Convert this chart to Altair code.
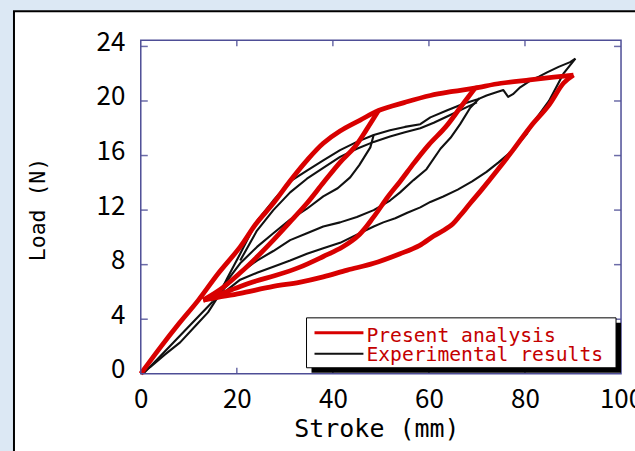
import altair as alt
import pandas as pd

# ---------------- data ----------------
# Present analysis (red)
RED_ENV_X = [0, 4, 8, 12, 16, 20.7, 24, 27.6, 31, 34.6, 38, 41.5, 45.7, 49.5, 55, 60.3, 65, 69.5, 75, 81, 86, 90.1]
RED_ENV_Y = [0, 1.9, 3.7, 5.4, 7.3, 9.3, 11.0, 12.5, 14.1, 15.65, 16.9, 17.8, 18.6, 19.3, 19.9, 20.4, 20.7, 20.95, 21.3, 21.55, 21.75, 21.9]
RED_U1_X = [49.5, 47, 44.5, 41.5, 38, 34.6, 31, 27.6, 24, 20.7, 17, 13]
RED_U1_Y = [19.3, 17.9, 16.6, 15.5, 14.0, 12.5, 11.1, 9.8, 8.5, 7.4, 6.3, 5.4]
RED_U2_X = [69.5, 66.5, 63.5, 60, 57, 54, 51.5, 48.5, 45.5, 42, 38, 33, 28, 24, 20.7, 17, 13]
RED_U2_Y = [20.9, 19.5, 18.1, 16.8, 15.5, 14.1, 13.0, 11.5, 10.2, 9.3, 8.6, 7.8, 7.2, 6.8, 6.4, 5.9, 5.4]
RED_U3_X = [90.1, 88, 85, 81.1, 77.5, 74.2, 71, 68.6, 66.5, 65, 63, 61, 58, 54, 48.5, 43, 38, 33, 27.6, 20.7, 16, 13]
RED_U3_Y = [21.9, 21.3, 19.7, 18.1, 16.4, 14.9, 13.5, 12.5, 11.6, 11.0, 10.5, 10.1, 9.4, 8.8, 8.1, 7.6, 7.1, 6.7, 6.4, 5.9, 5.6, 5.4]

# Experimental results (black)
BLK_ENV_X = [0, 2, 5, 8.2, 11.6, 14, 16, 18, 20.7, 24.2, 27.6, 31.1, 34.6, 38, 41.5, 45, 48.5, 51.9, 55, 58.2, 60.3, 63.7, 67.2, 70, 72, 74.2, 75.5, 76.5, 77.5, 79, 81.1, 83, 84.6, 87, 89.4, 90.5]
BLK_ENV_Y = [0, 0.5, 1.4, 2.3, 3.6, 4.5, 5.6, 7.0, 8.8, 11.2, 12.7, 14.1, 14.9, 15.65, 16.4, 17.0, 17.5, 17.85, 18.1, 18.3, 18.8, 19.3, 19.8, 20.1, 20.4, 20.65, 20.8, 20.3, 20.5, 21.0, 21.5, 21.8, 22.1, 22.5, 22.85, 23.1]
BLK_ENV2_X = [20.7, 24.2, 27.6, 31.1, 34.6, 38, 41.5, 45, 48.5, 51.9, 55, 58.2, 61, 64, 67, 70]
BLK_ENV2_Y = [8.3, 10.5, 12.0, 13.3, 14.3, 15.1, 15.9, 16.5, 17.0, 17.4, 17.7, 18.0, 18.4, 18.9, 19.4, 19.9]
BLK_U1_X = [48.5, 47.8, 45.5, 43.6, 41, 38, 34.6, 31.1, 27.6, 24.2, 20.7, 17.5, 15]
BLK_U1_Y = [17.5, 16.6, 15.3, 14.4, 13.6, 13.0, 12.1, 11.3, 10.3, 9.3, 8.1, 6.6, 5.4]
BLK_U2_X = [70.5, 68.6, 66.5, 64.5, 62.4, 59.5, 56.8, 54, 51.9, 48.5, 45, 41.5, 38, 34.6, 31.1, 27.6, 24.2, 20.7, 17.5, 15]
BLK_U2_Y = [20.2, 19.5, 18.3, 17.3, 16.5, 15.0, 14.2, 13.3, 12.7, 12.0, 11.5, 11.1, 10.8, 10.3, 9.8, 9.0, 8.3, 7.4, 6.3, 5.3]
BLK_U3_X = [90.5, 88, 85, 82.5, 80.4, 77.5, 74.5, 72, 69, 66, 63, 60.3, 58.2, 55.5, 53, 50.5, 48.5, 45, 41.5, 38, 34.6, 31.1, 27.6, 24.2, 20.7, 17.5, 15]
BLK_U3_Y = [23.1, 22.0, 20.0, 18.8, 17.6, 16.4, 15.5, 14.8, 14.1, 13.5, 13.0, 12.6, 12.2, 11.8, 11.4, 11.1, 10.8, 10.2, 9.6, 9.2, 8.8, 8.3, 7.85, 7.4, 6.9, 6.0, 5.3]
BLK_RET_X = [15, 12, 9, 6, 3, 0.5]
BLK_RET_Y = [5.3, 4.2, 3.1, 2.0, 0.9, 0]

X_TICKS = [0, 20, 40, 60, 80, 100]
Y_TICKS = [0, 4, 8, 12, 16, 20, 24]
X_INNER = [20, 40, 60, 80]
Y_INNER = [4, 8, 12, 16, 20, 24]
LEGEND_LABELS = ["Present analysis", "Experimental results"]
RED = "#d80000"
BLK = "#111111"
TICK = "#6c6ca8"

# ---------------- build table ----------------
def seg(name, xs, ys):
    return pd.DataFrame({"stroke": xs, "load": ys, "curve": name, "i": range(len(xs))})

red_df = pd.concat([seg("env", RED_ENV_X, RED_ENV_Y), seg("u1", RED_U1_X, RED_U1_Y),
                    seg("u2", RED_U2_X, RED_U2_Y), seg("u3", RED_U3_X, RED_U3_Y)])
blk_df = pd.concat([seg("benv", BLK_ENV_X, BLK_ENV_Y), seg("benv2", BLK_ENV2_X, BLK_ENV2_Y),
                    seg("b1", BLK_U1_X, BLK_U1_Y), seg("b2", BLK_U2_X, BLK_U2_Y),
                    seg("b3", BLK_U3_X, BLK_U3_Y), seg("bret", BLK_RET_X, BLK_RET_Y)])

W, H = 481, 334
XS = alt.Scale(domain=[0, 100], nice=False, zero=False)
YS = alt.Scale(domain=[0, 24.45], nice=False, zero=False)
XAX = alt.Axis(values=X_TICKS, title="Stroke (mm)", grid=False, ticks=False, tickSize=0, domain=False,
               labelFont="Noto Sans CJK JP", labelFontSize=26, labelColor="black",
               labelPadding=34, labelBaseline="alphabetic", labelFlush=False, labelOverlap=False,
               titleFont="DejaVu Sans Mono", titleFontSize=25, titleFontWeight="normal",
               titleColor="black", titleX=236, titleY=63, titleBaseline="alphabetic", zindex=2)
YAX = alt.Axis(values=Y_TICKS, title="Load (N)", grid=False, ticks=False, tickSize=0, domain=False,
               labelFont="Noto Sans CJK JP", labelFontSize=26, labelColor="black",
               labelPadding=16, labelBaseline="alphabetic", labelOffset=4, labelAlign="right",
               labelFlush=False, labelOverlap=False,
               titleFont="DejaVu Sans Mono", titleFontSize=21.5, titleFontWeight="normal",
               titleColor="black", titleX=-96, titleY=169, titleAngle=270, titleAlign="center",
               titleBaseline="alphabetic", zindex=2)

def X(f):
    return alt.X(f, type="quantitative", scale=XS, axis=XAX)

def Y(f):
    return alt.Y(f, type="quantitative", scale=YS, axis=YAX)

one = pd.DataFrame({"k": [0]})

panel = alt.Chart(one).mark_rect(fill="white", stroke="black", strokeWidth=2).encode(
    x=alt.value(-127), x2=alt.value(W + 40), y=alt.value(-29), y2=alt.value(H + 120))

yt = pd.DataFrame({"v": Y_INNER})
xt = pd.DataFrame({"v": X_INNER})
tick_l = alt.Chart(yt).mark_rule(color=TICK, strokeWidth=1.5).encode(y=Y("v"), x=alt.value(0), x2=alt.value(7))
tick_r = alt.Chart(yt).mark_rule(color=TICK, strokeWidth=1.5).encode(y=Y("v"), x=alt.value(W - 7), x2=alt.value(W))
tick_t = alt.Chart(xt).mark_rule(color=TICK, strokeWidth=1.5).encode(x=X("v"), y=alt.value(0), y2=alt.value(6))
tick_b = alt.Chart(xt).mark_rule(color=TICK, strokeWidth=1.5).encode(x=X("v"), y=alt.value(H - 6), y2=alt.value(H))

frame = alt.Chart(one).mark_rect(filled=False, stroke="#4e4e96", strokeWidth=1.5).encode(
    x=alt.value(0), x2=alt.value(W), y=alt.value(0), y2=alt.value(H))

blk = alt.Chart(blk_df).mark_line(color=BLK, strokeWidth=2.1, strokeJoin="round").encode(
    x=X("stroke"), y=Y("load"), detail="curve:N", order="i:Q")
red = alt.Chart(red_df).mark_line(color=RED, strokeWidth=4.8, strokeJoin="round",
                                  interpolate="catmull-rom").encode(
    x=X("stroke"), y=Y("load"), detail="curve:N", order="i:Q")

# legend (drawn manually)
lg_shadow = alt.Chart(one).mark_rect(fill="black").encode(
    x=alt.value(171), x2=alt.value(481), y=alt.value(283), y2=alt.value(333))
lg_box = alt.Chart(one).mark_rect(fill="white", stroke="black", strokeWidth=1).encode(
    x=alt.value(166), x2=alt.value(476), y=alt.value(278), y2=alt.value(328))
lg_red = alt.Chart(one).mark_rule(color=RED, strokeWidth=3).encode(
    x=alt.value(174), x2=alt.value(223), y=alt.value(293))
lg_blk = alt.Chart(one).mark_rule(color=BLK, strokeWidth=2).encode(
    x=alt.value(174), x2=alt.value(223), y=alt.value(314))
lg_t1 = alt.Chart(pd.DataFrame({"t": [LEGEND_LABELS[0]]})).mark_text(
    font="DejaVu Sans Mono", fontSize=19.7, color="#c40000", align="left", baseline="alphabetic").encode(
    text="t:N", x=alt.value(226), y=alt.value(302))
lg_t2 = alt.Chart(pd.DataFrame({"t": [LEGEND_LABELS[1]]})).mark_text(
    font="DejaVu Sans Mono", fontSize=19.7, color="#c40000", align="left", baseline="alphabetic").encode(
    text="t:N", x=alt.value(226), y=alt.value(321))

chart = alt.layer(panel, blk, red, tick_l, tick_r, tick_t, tick_b, frame,
                  lg_shadow, lg_box, lg_red, lg_blk, lg_t1, lg_t2).properties(
    width=W, height=H,
    autosize=alt.AutoSizeParams(type="none"),
    padding={"left": 141, "top": 40, "right": 14, "bottom": 77},
    background="#dce8f4",
).configure_view(stroke=None)

chart.save("out.html", embed_options={"renderer": "svg", "actions": False})
